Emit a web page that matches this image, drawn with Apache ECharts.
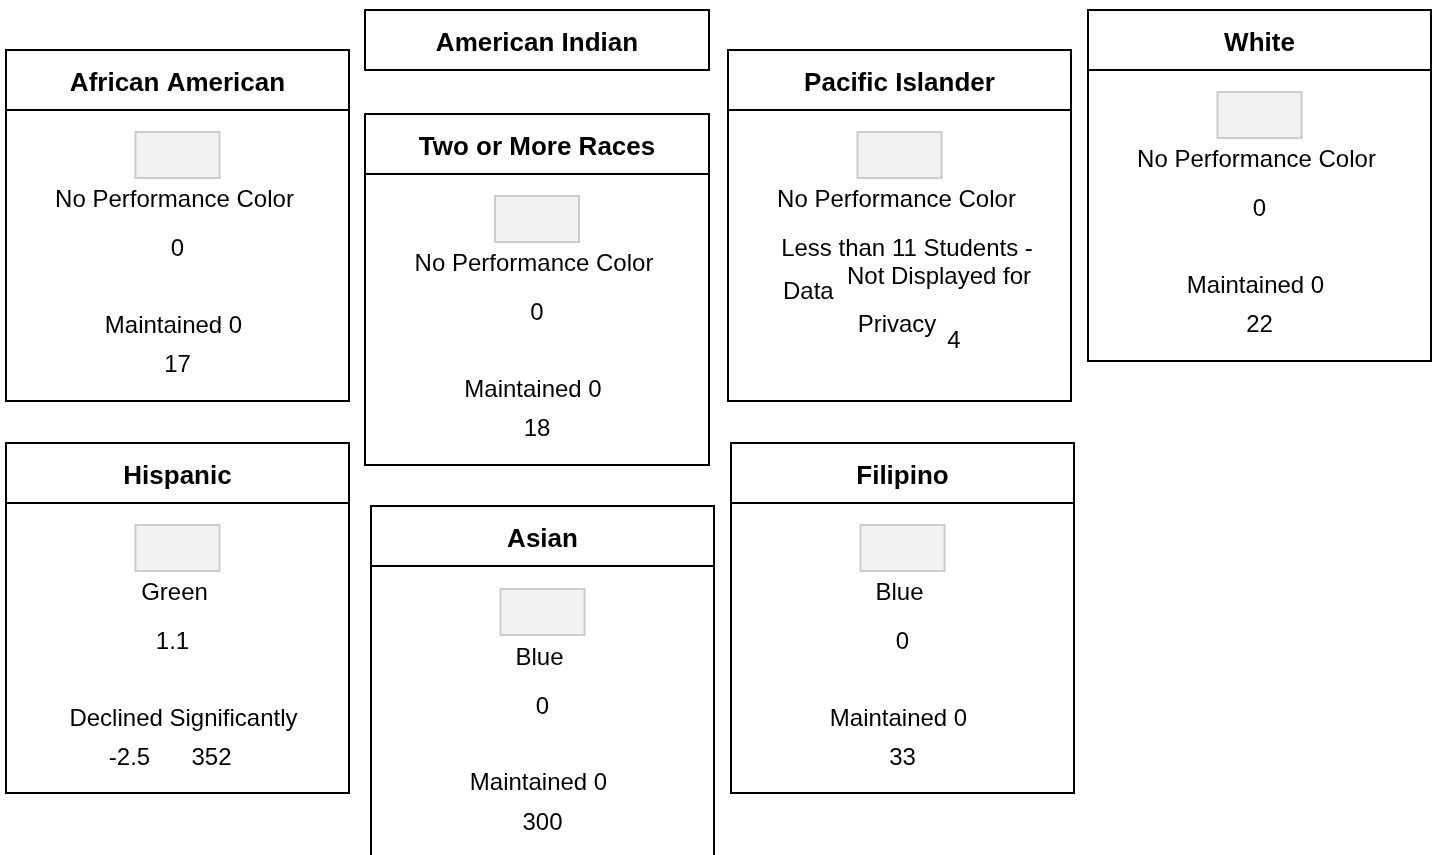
<!DOCTYPE html>
<html>
<head>
<meta charset="utf-8">
<script src="https://cdn.jsdelivr.net/npm/echarts@6/dist/echarts.min.js"></script>
<style>
html,body{margin:0;padding:0;background:#fff;}
#chart{width:1432px;height:855px;}
</style>
</head>
<body>
<div id="chart"></div>
<script>
// ---- data ----
const groups = ['African American', 'American Indian', 'Two or More Races', 'Pacific Islander', 'White', 'Hispanic', 'Asian', 'Filipino'];
const hasBody = [true, false, true, true, true, true, true, true];
const colorNames = ['No Performance Color', '', 'No Performance Color', 'No Performance Color', 'No Performance Color', 'Green', 'Blue', 'Blue'];
const statusValues = [0, null, 0, null, 0, 1.1, 0, 0];
const changeNames = ['Maintained', '', 'Maintained', '', 'Maintained', 'Declined Significantly', 'Maintained', 'Maintained'];
const changeValues = [0, null, 0, null, 0, -2.5, 0, 0];
const studentCounts = [17, null, 18, 4, 22, 352, 300, 33];
const privacyNotes = ['', '', '', 'Less than 11 Students - Data Not Displayed for Privacy', '', '', '', ''];

// ---- layout (positions / sizes, separate from data) ----
const cardBoxes = [
  [5, 49, 345, 353],
  [364, 9, 346, 62],
  [364, 113, 346, 353],
  [727, 49, 345, 353],
  [1087, 9, 345, 353],
  [5, 442, 345, 352],
  [370, 505, 345, 353],
  [730, 442, 345, 352]
];
const HEADER_H = 62;
const FONT = '"Liberation Sans", Arial, Helvetica, sans-serif';

const measureCtx = document.createElement('canvas').getContext('2d');
measureCtx.font = '24px ' + FONT;
function textWidth(t) { return measureCtx.measureText(t).width; }

function txt(x, y, text, opts) {
  opts = opts || {};
  return {
    type: 'text', x: x, y: y, z: 10,
    style: {
      text: text,
      align: opts.align || 'center',
      verticalAlign: 'middle',
      fontSize: opts.size || 24,
      fontWeight: opts.bold ? 'bold' : 'normal',
      fontFamily: FONT,
      fill: '#000'
    }
  };
}

const elements = [];
groups.forEach(function (g, i) {
  const b = cardBoxes[i];
  const x = b[0], y = b[1], w = b[2], h = b[3];
  const cx = x + w / 2;
  const dy = (i === 6) ? 1 : 0;
  // card border
  elements.push({
    type: 'rect', z: 1,
    shape: { x: x + 1, y: y + 1, width: w - 2, height: h - 2 },
    style: { fill: '#fff', stroke: '#000', lineWidth: 2 }
  });
  elements.push(txt(cx, y + 35, g, { bold: true, size: 26 }));
  if (!hasBody[i]) return;
  // header divider
  elements.push({
    type: 'line', z: 2,
    shape: { x1: x + 1, y1: y + HEADER_H - 1, x2: x + w - 1, y2: y + HEADER_H - 1 },
    style: { stroke: '#000', lineWidth: 2 }
  });
  // colour swatch
  elements.push({
    type: 'rect', z: 3,
    shape: { x: cx - 42, y: y + 83 + dy, width: 84, height: 46 },
    style: { fill: '#f2f2f2', stroke: '#cccccc', lineWidth: 2 }
  });
  elements.push(txt(cx - 3, y + 151 + dy * 2, colorNames[i]));

  if (privacyNotes[i]) {
    const words = privacyNotes[i].split(' ');
    elements.push(txt(x + 180, y + 200, words.slice(0, 5).join(' ')));
    elements.push(txt(x + 56, y + 243, words[5], { align: 'left' }));
    elements.push(txt(x + 212, y + 228, words.slice(6, 9).join(' ')));
    elements.push(txt(x + 170, y + 276, words.slice(9).join(' ')));
    elements.push(txt(x + 227, y + 292, String(studentCounts[i])));
    return;
  }
  const sv = statusValues[i];
  elements.push(txt(sv === 0 ? cx : cx - 5, y + 200 + dy * 2, String(sv)));
  const oneLine = changeNames[i] + ' ' + changeValues[i];
  if (textWidth(oneLine) <= 250) {
    elements.push(txt(cx - 4, y + 277 + dy, oneLine));
    elements.push(txt(cx, y + 316 + dy * 2, String(studentCounts[i])));
  } else {
    elements.push(txt(cx + 6, y + 277, changeNames[i]));
    elements.push(txt(cx - 48, y + 316, String(changeValues[i])));
    elements.push(txt(cx + 34, y + 316, String(studentCounts[i])));
  }
});

const chart = echarts.init(document.getElementById('chart'), null, { renderer: 'canvas' });
chart.setOption({
  backgroundColor: '#fff',
  animation: false,
  graphic: { elements: elements }
});
</script>
</body>
</html>
